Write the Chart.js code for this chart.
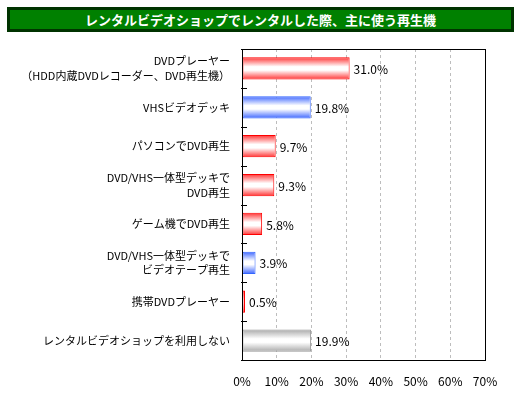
<!DOCTYPE html>
<html>
<head>
<meta charset="utf-8">
<script src="https://cdn.jsdelivr.net/npm/chart.js@4.4.1/dist/chart.umd.min.js"></script>
<style>
  body { margin: 0; background: #fff; }
  #wrap { position: relative; width: 522px; height: 396px; }
  #title {
    position: absolute; left: 7px; top: 7px; width: 501px; height: 19px;
    background: #008000; border: 3px solid #003300;
    color: #fff; font: bold 13px "Noto Sans CJK JP", sans-serif;
    text-align: center; line-height: 19px;
  }
  canvas { position: absolute; left: 0; top: 0; }
</style>
</head>
<body>
<div id="wrap">
  <canvas id="myChart" width="522" height="396"></canvas>
  <div id="title">レンタルビデオショップでレンタルした際、主に使う再生機</div>
</div>
<script>
const categories = [
  ['DVDプレーヤー', '（HDD内蔵DVDレコーダー、DVD再生機）'],
  'VHSビデオデッキ',
  'パソコンでDVD再生',
  ['DVD/VHS一体型デッキで', 'DVD再生'],
  'ゲーム機でDVD再生',
  ['DVD/VHS一体型デッキで', 'ビデオテープ再生'],
  '携帯DVDプレーヤー',
  'レンタルビデオショップを利用しない'
];
const values = [31.0, 19.8, 9.7, 9.3, 5.8, 3.9, 0.5, 19.9];
const barGroups = ['red', 'blue', 'red', 'red', 'red', 'blue', 'red', 'gray'];
const xTickValues = [0, 10, 20, 30, 40, 50, 60, 70];

const palette = {
  red:  { edge: '#ff3333', border: '#ff0000' },
  blue: { edge: '#3d66ff', border: '#3366ff' },
  gray: { edge: '#a8a8a8', border: '#999999' }
};
const BAR_PCT = 0.57;
const FONT = '"Noto Sans CJK JP", sans-serif';

function barFill(context) {
  const chart = context.chart;
  const y = chart.scales.y;
  const c = palette[barGroups[context.dataIndex]];
  if (!chart.chartArea || !y) return c.edge;
  const mid = y.getPixelForValue(context.dataIndex);
  const half = (y.getPixelForValue(1) - y.getPixelForValue(0)) * BAR_PCT / 2;
  const g = chart.ctx.createLinearGradient(0, mid - half, 0, mid + half);
  g.addColorStop(0, c.edge);
  g.addColorStop(0.42, '#ffffff');
  g.addColorStop(0.58, '#ffffff');
  g.addColorStop(1, c.edge);
  return g;
}

// frame, inner ticks on the y axis and value labels
const extras = {
  id: 'extras',
  afterDatasetsDraw(chart) {
    const { ctx, chartArea: a, scales: { x, y } } = chart;
    ctx.save();
    ctx.strokeStyle = '#000';
    ctx.lineWidth = 1;
    ctx.strokeRect(a.left + 0.5, a.top + 0.5, a.right - a.left, a.bottom - a.top);
    ctx.beginPath();
    for (let i = 0; i <= values.length; i++) {
      const p = (y.getPixelForValue(i) + y.getPixelForValue(i - 1)) / 2;
      ctx.moveTo(a.left - 1, Math.round(p) + 0.5);
      ctx.lineTo(a.left + 5, Math.round(p) + 0.5);
    }
    ctx.stroke();
    ctx.fillStyle = '#000';
    ctx.font = '12px ' + FONT;
    ctx.textBaseline = 'middle';
    ctx.textAlign = 'left';
    values.forEach((v, i) => {
      const end = Math.max(x.getPixelForValue(v), x.getPixelForValue(0) + 3);
      ctx.fillText(v.toFixed(1) + '%', end + 4, y.getPixelForValue(i) + 1);
    });
    ctx.restore();
  }
};

new Chart(document.getElementById('myChart'), {
  type: 'bar',
  data: {
    labels: categories,
    datasets: [{
      data: values,
      backgroundColor: barFill,
      borderColor: barGroups.map(g => palette[g].border),
      borderWidth: 1,
      borderSkipped: false,
      minBarLength: 3,
      barPercentage: BAR_PCT,
      categoryPercentage: 1
    }]
  },
  options: {
    indexAxis: 'y',
    responsive: false,
    animation: false,
    events: [],
    layout: { padding: { left: 0, top: 49, right: 37, bottom: 0 } },
    plugins: { legend: { display: false }, tooltip: { enabled: false } },
    scales: {
      x: {
        min: 0, max: 70,
        afterBuildTicks: s => { s.ticks = xTickValues.map(v => ({ value: v })); },
        afterFit: s => { s.height = 36; },
        border: { display: false, dash: [3, 3] },
        grid: {
          drawTicks: false,
          color: c => (c.tick.value === 0 || c.tick.value === 70) ? 'rgba(0,0,0,0)' : '#bdbdbd'
        },
        ticks: { color: '#000', padding: 14, font: { family: FONT, size: 12 }, callback: v => v + '%' }
      },
      y: {
        afterFit: s => { s.width = 242; },
        border: { display: false },
        grid: { offset: true, drawOnChartArea: false, drawTicks: false },
        ticks: { color: '#000', padding: 12, font: { family: FONT, size: 11, lineHeight: 1.36 } }
      }
    }
  },
  plugins: [extras]
});
</script>
</body>
</html>
